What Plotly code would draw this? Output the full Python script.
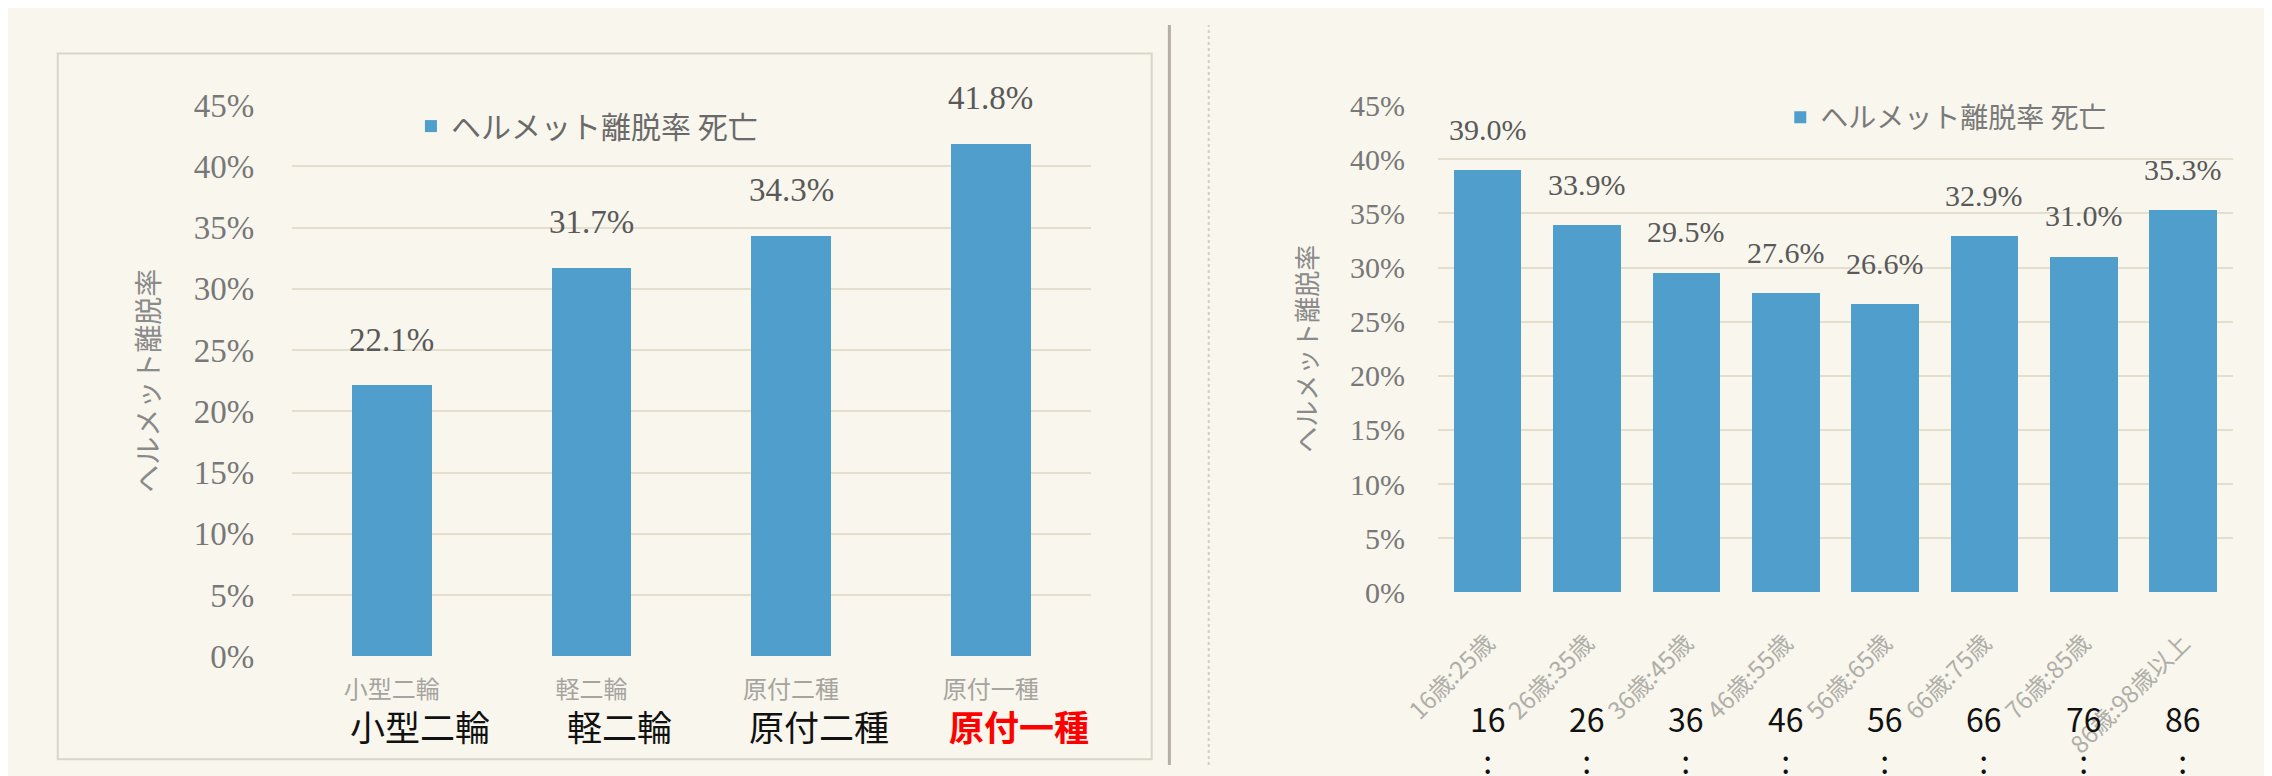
import plotly.graph_objects as go

# ---------------- data ----------------
vehicle_types = ["小型二輪", "軽二輪", "原付二種", "原付一種"]
vehicle_rates = [0.221, 0.317, 0.343, 0.418]

age_groups = ["16歳:25歳", "26歳:35歳", "36歳:45歳", "46歳:55歳",
              "56歳:65歳", "66歳:75歳", "76歳:85歳", "86歳:98歳以上"]
age_rates = [0.390, 0.339, 0.295, 0.276, 0.266, 0.329, 0.310, 0.353]

series_name = "ヘルメット離脱率 死亡"
y_title = "ヘルメット離脱率"

overlay_vehicle = ["小型二輪", "軽二輪", "原付二種", "原付一種"]
overlay_age = ["16", "26", "36", "46", "56", "66", "76", "86"]
y_ticks = [0, 0.05, 0.10, 0.15, 0.20, 0.25, 0.30, 0.35, 0.40, 0.45]

# ---------------- style ----------------
W, H = 2272, 776
BG = "#f8f6ed"
BAR = "#509ecb"
GRID = "#e3dece"
SERIF = "Liberation Serif"
JP = "Noto Sans CJK JP"
CLEAR = "rgba(0,0,0,0)"

def px(x):
    return x / W

def py(y):
    return (H - y) / H

fig = go.Figure()

fig.add_trace(go.Bar(
    x=vehicle_types, y=vehicle_rates, name=series_name,
    marker=dict(color=BAR, line=dict(width=0)), width=0.4,
    xaxis="x", yaxis="y", legend="legend", showlegend=True,
    hoverinfo="skip"))

fig.add_trace(go.Bar(
    x=age_groups, y=age_rates, name=series_name,
    marker=dict(color=BAR, line=dict(width=0)), width=0.68,
    xaxis="x2", yaxis="y2", legend="legend2", showlegend=True,
    hoverinfo="skip"))

annotations = []
# value labels
for c, v in zip(vehicle_types, vehicle_rates):
    annotations.append(dict(x=c, y=v, xref="x", yref="y", text=f"{v*100:.1f}%",
                            showarrow=False, yshift=46, yanchor="middle",
                            font=dict(family=SERIF, size=33, color="#595959")))
for c, v in zip(age_groups, age_rates):
    annotations.append(dict(x=c, y=v, xref="x2", yref="y2", text=f"{v*100:.1f}%",
                            showarrow=False, yshift=41, yanchor="middle",
                            font=dict(family=SERIF, size=30, color="#595959")))
# overlay labels (left)
for i, (c, t) in enumerate(zip(vehicle_types, overlay_vehicle)):
    last = i == len(overlay_vehicle) - 1
    annotations.append(dict(x=c, y=py(735), xref="x", yref="paper",
                            text=f"<b>{t}</b>" if last else t,
                            showarrow=False, xshift=28, yanchor="middle",
                            font=dict(family=JP, size=35,
                                      color="#ff0000" if last else "#111111")))
# overlay labels (right)
for c, t in zip(age_groups, overlay_age):
    annotations.append(dict(x=c, y=py(700), xref="x2", yref="paper",
                            text=f"{t}<br>:", showarrow=False, yanchor="top",
                            font=dict(family=JP, size=32, color="#111111")))

shapes = [
    dict(type="rect", xref="paper", yref="paper", x0=px(13), x1=px(1125),
         y0=py(770), y1=py(30), line=dict(color="#d9d5c9", width=2), layer="below"),
    dict(type="line", xref="paper", yref="paper", x0=px(1143), x1=px(1143),
         y0=0, y1=1, line=dict(color="#b3afa6", width=3)),
    dict(type="line", xref="paper", yref="paper", x0=px(1183), x1=px(1183),
         y0=0, y1=1, line=dict(color="#d3cfc4", width=2, dash="dot")),
]

yax_common = dict(range=[0, 0.45], tickvals=y_ticks, tickformat=".0%",
                  showgrid=True, gridcolor=GRID, gridwidth=2,
                  zeroline=False, showline=False,
                  ticks="outside", tickcolor=CLEAR)

fig.update_layout(
    width=W, height=H, margin=dict(l=0, r=0, t=0, b=0),
    paper_bgcolor=BG, plot_bgcolor=BG,
    bargap=0.0,
    xaxis=dict(domain=[px(251), px(1063)], type="category",
               showline=False, zeroline=False,
               ticks="outside", ticklen=12, tickcolor=CLEAR,
               tickfont=dict(family=JP, size=24, color="#a6a49e")),
    yaxis=dict(domain=[py(662), py(84)], anchor="x", ticklen=30,
               tickfont=dict(family=SERIF, size=33, color="#787878"),
               title=dict(text=y_title, standoff=26,
                          font=dict(family=JP, size=28, color="#8a8a8a")),
               **yax_common),
    xaxis2=dict(domain=[px(1416), px(2224)], type="category", anchor="y2",
                tickangle=-45, showline=False, zeroline=False,
                ticks="outside", ticklen=26, tickcolor=CLEAR,
                tickfont=dict(family=JP, size=24, color="#b0aea8")),
    yaxis2=dict(domain=[py(595), py(84)], anchor="x2", ticklen=26,
                tickfont=dict(family=SERIF, size=30, color="#787878"),
                title=dict(text=y_title, standoff=24,
                           font=dict(family=JP, size=26, color="#8a8a8a")),
                **yax_common),
    legend=dict(x=px(372), y=py(106), xanchor="left", yanchor="middle",
                bgcolor=CLEAR, font=dict(family=JP, size=30, color="#6a6a6a")),
    legend2=dict(x=px(1764), y=py(97), xanchor="left", yanchor="middle",
                 bgcolor=CLEAR, font=dict(family=JP, size=28, color="#7a7a7a")),
    annotations=annotations,
    shapes=shapes,
    showlegend=True,
)

fig.write_html("out.html")
